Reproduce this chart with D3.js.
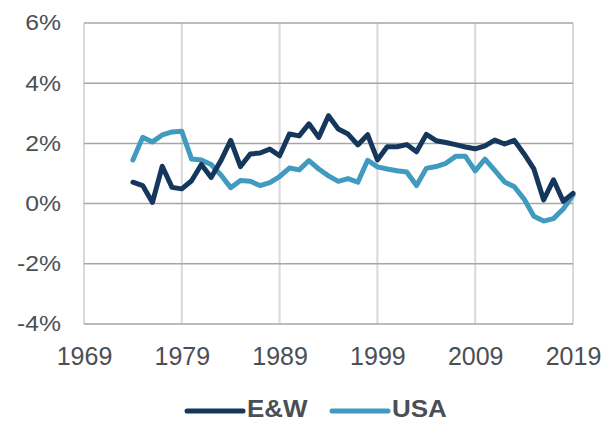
<!DOCTYPE html>
<html>
<head>
<meta charset="utf-8">
<script src="https://cdn.jsdelivr.net/npm/d3@7"></script>
<style>
  body { margin: 0; background: #fff; }
  svg text { font-family: "Liberation Sans", Arial, sans-serif; }
</style>
</head>
<body>
<svg id="chart"></svg>
<script>
// annual values, %, 1974 to 2019
var years = d3.range(1974, 2020);
var ewValues = [0.71, 0.6, 0.04, 1.24, 0.54, 0.49, 0.76, 1.3, 0.87, 1.43,
                2.1, 1.23, 1.65, 1.68, 1.81, 1.59, 2.31, 2.25, 2.65, 2.2,
                2.92, 2.48, 2.31, 1.95, 2.29, 1.45, 1.89, 1.89, 1.96, 1.72,
                2.3, 2.09, 2.03, 1.96, 1.88, 1.82, 1.92, 2.11, 1.98, 2.1,
                1.65, 1.15, 0.12, 0.79, 0.08, 0.34];
var usaValues = [1.45, 2.2, 2.05, 2.28, 2.38, 2.4, 1.48, 1.45, 1.3, 0.95,
                 0.53, 0.77, 0.74, 0.6, 0.7, 0.9, 1.18, 1.12, 1.43, 1.15,
                 0.92, 0.74, 0.83, 0.71, 1.44, 1.22, 1.15, 1.09, 1.05, 0.6,
                 1.17, 1.23, 1.34, 1.57, 1.57, 1.09, 1.48, 1.1, 0.72, 0.56,
                 0.15, -0.42, -0.58, -0.5, -0.18, 0.28];
var xTicks = [1969, 1979, 1989, 1999, 2009, 2019];
var yTicks = [-4, -2, 0, 2, 4, 6];
var seriesNames = ["E&W", "USA"];
var seriesColors = ["#16375c", "#419ac0"];

var width = 612;
var height = 422;
var plotLeft = 84, plotRight = 573, plotTop = 23, plotBottom = 324;
var textColor = "#4a4f55";

var svg = d3.select("#chart")
            .attr("width", width)
            .attr("height", height);

var x = d3.scaleLinear().domain([1969, 2019]).range([plotLeft, plotRight]);
var y = d3.scaleLinear().domain([-4, 6]).range([plotBottom, plotTop]);

// vertical gridlines
svg.append("g")
   .selectAll("line")
   .data(xTicks)
   .enter()
   .append("line")
   .attr("x1", function(d) { return x(d); })
   .attr("x2", function(d) { return x(d); })
   .attr("y1", plotTop)
   .attr("y2", plotBottom)
   .attr("stroke", "#d9d9d9")
   .attr("stroke-width", 2);

// horizontal gridlines
svg.append("g")
   .selectAll("line")
   .data(yTicks)
   .enter()
   .append("line")
   .attr("x1", plotLeft)
   .attr("x2", plotRight)
   .attr("y1", function(d) { return y(d); })
   .attr("y2", function(d) { return y(d); })
   .attr("stroke", "#a6a6a6")
   .attr("stroke-width", 1.5);

// y axis labels (slightly wide glyphs in the original)
var yStretch = 1.15;
var yAxis = d3.axisLeft(y)
              .tickValues(yTicks)
              .tickSize(0)
              .tickPadding(23)
              .tickFormat(function(d) { return d + "%"; });
var gy = svg.append("g")
            .attr("transform", "translate(" + plotLeft + ",0)")
            .call(yAxis);
gy.select(".domain").remove();
gy.selectAll("text")
  .attr("x", -23 / yStretch)
  .attr("transform", "scale(" + yStretch + ",1)")
  .attr("fill", textColor)
  .attr("font-size", "21.5px")
  .attr("font-family", "Liberation Sans, Arial, sans-serif");

// x axis labels
var xAxis = d3.axisBottom(x)
              .tickValues(xTicks)
              .tickSize(0)
              .tickPadding(23)
              .tickFormat(d3.format("d"));
var gx = svg.append("g")
            .attr("transform", "translate(0," + plotBottom + ")")
            .call(xAxis);
gx.select(".domain").remove();
gx.selectAll("text")
  .attr("fill", textColor)
  .attr("font-size", "25px")
  .attr("font-family", "Liberation Sans, Arial, sans-serif");

// lines
var line = d3.line()
             .x(function(d) { return x(d[0]); })
             .y(function(d) { return y(d[1]); });

var allSeries = [ewValues, usaValues];

// USA underneath, E&W on top
[1, 0].forEach(function(i)
{
  var pts = years.map(function(yr, j) { return [yr, allSeries[i][j]]; });
  svg.append("path")
     .attr("d", line(pts))
     .attr("fill", "none")
     .attr("stroke", seriesColors[i])
     .attr("stroke-width", 5)
     .attr("stroke-linejoin", "round")
     .attr("stroke-linecap", "round");
});

// legend
var legendX = [187, 332];
var legend = svg.append("g");
seriesNames.forEach(function(name, i)
{
  legend.append("line")
        .attr("x1", legendX[i])
        .attr("x2", legendX[i] + 56)
        .attr("y1", 411)
        .attr("y2", 411)
        .attr("stroke", seriesColors[i])
        .attr("stroke-width", 5)
        .attr("stroke-linecap", "round");
  legend.append("text")
        .text(name)
        .attr("transform", "translate(" + (legendX[i] + 60) + ",417) scale(1.13,1)")
        .attr("fill", textColor)
        .attr("font-size", "23px")
        .attr("font-weight", "bold");
});
</script>
</body>
</html>
